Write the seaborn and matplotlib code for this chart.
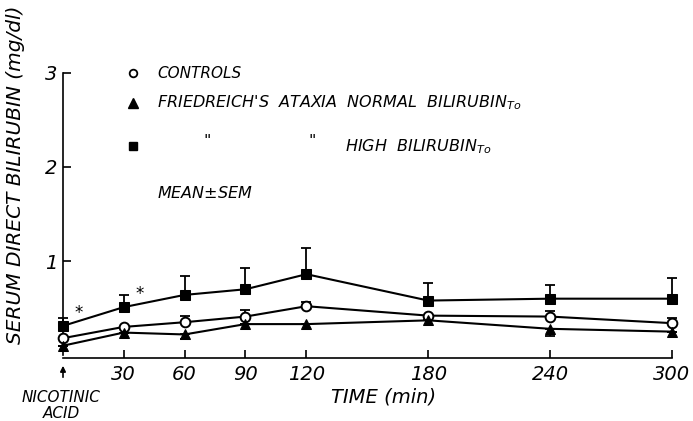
import matplotlib
matplotlib.use("Agg")
import matplotlib.pyplot as plt
import seaborn as sns
import pandas as pd
import numpy as np

times = [0, 30, 60, 90, 120, 180, 240, 300]
controls = [0.18, 0.30, 0.35, 0.41, 0.52, 0.42, 0.41, 0.34]
controls_err_up = [0.0, 0.0, 0.07, 0.07, 0.05, 0.0, 0.06, 0.05]
ataxia_normal = [0.10, 0.24, 0.22, 0.33, 0.33, 0.37, 0.28, 0.25]
ataxia_normal_err_dn = [0.0, 0.0, 0.05, 0.0, 0.0, 0.0, 0.08, 0.0]
ataxia_high = [0.31, 0.51, 0.64, 0.70, 0.86, 0.58, 0.60, 0.60]
ataxia_high_err_up = [0.09, 0.13, 0.20, 0.23, 0.28, 0.19, 0.14, 0.22]

groups = ["CONTROLS", "NORMAL", "HIGH"]
yticks = [1, 2, 3]
xticks = [30, 60, 90, 120, 180, 240, 300]

df = pd.DataFrame({
    "time": times * 3,
    "value": controls + ataxia_normal + ataxia_high,
    "group": [groups[0]] * 8 + [groups[1]] * 8 + [groups[2]] * 8,
})

sns.set_style("ticks")
plt.rcParams["font.family"] = ["DejaVu Sans"]
plt.rcParams["font.style"] = "italic"
plt.rcParams["mathtext.fontset"] = "dejavusans"
plt.rcParams["text.color"] = "black"
plt.rcParams["xtick.color"] = "black"
plt.rcParams["ytick.color"] = "black"
plt.rcParams["axes.edgecolor"] = "black"

W, H = 693, 421
fig = plt.figure(figsize=(W / 100, H / 100), dpi=100)
ax = fig.add_axes([62.7 / W, 1 - 358 / H, (672 - 62.7) / W, (358 - 72.7) / H])

ekw = dict(fmt="none", ecolor="black", elinewidth=1.3, capsize=3.5, capthick=1.3,
           clip_on=False, zorder=2)
ax.errorbar(times, ataxia_high, yerr=[np.zeros(8), ataxia_high_err_up], **ekw)
ax.errorbar(times, controls, yerr=[np.zeros(8), controls_err_up], **ekw)
ax.errorbar(times, ataxia_normal, yerr=[ataxia_normal_err_dn, np.zeros(8)], **ekw)

markers = {"CONTROLS": "o", "NORMAL": "^", "HIGH": "s"}
sns.lineplot(data=df, x="time", y="value", hue="group", style="group",
             markers=markers, dashes=False, palette=["black"] * 3,
             markersize=7, linewidth=1.5, legend=False, ax=ax, zorder=3)
for ln in ax.get_lines():
    ln.set_clip_on(False)
    ln.set_zorder(3)
    if ln.get_marker() == "o":
        ln.set_markerfacecolor("white")
        ln.set_markeredgecolor("black")
        ln.set_markeredgewidth(1.4)
    elif ln.get_marker() in ("^", "s"):
        ln.set_markeredgecolor("black")
        ln.set_markerfacecolor("black")

ax.set_xlim(0, 300)
ax.set_ylim(-0.03, 3.0)
ax.set_xticks(xticks)
ax.set_xticklabels([str(t) for t in xticks], fontsize=14, style="italic")
ax.set_yticks(yticks)
ax.set_yticklabels([str(t) for t in yticks], fontsize=14, style="italic")
ax.tick_params(axis="x", direction="in", length=6, width=1.2, pad=5)
ax.tick_params(axis="y", direction="in", length=6, width=1.2, pad=4)
sns.despine(ax=ax)
ax.spines["left"].set_linewidth(1.2)
ax.spines["bottom"].set_linewidth(1.2)
ax.spines["left"].set_bounds(0, 3)
ax.set_xlabel("")
ax.set_ylabel("")

fig.text(16 / W, 1 - 175 / H, "SERUM DIRECT BILIRUBIN (mg/dl)", rotation=90,
         ha="center", va="center", fontsize=14.5, style="italic")
fig.text(384 / W, 1 - 397 / H, "TIME (min)", ha="center", va="center", fontsize=14, style="italic")
fig.text(61 / W, 1 - 397 / H, "NICOTINIC", ha="center", va="center", fontsize=11, style="italic")
fig.text(61 / W, 1 - 413 / H, "ACID", ha="center", va="center", fontsize=11, style="italic")
ax.annotate("", xy=(63 / W, 1 - 363 / H), xytext=(63 / W, 1 - 380 / H),
            xycoords="figure fraction", textcoords="figure fraction",
            arrowprops=dict(arrowstyle="-|>", color="black", lw=1.2, mutation_scale=8))

# legend
leg_x_marker = 133 / W
leg_x_text = 157 / W
fig.lines.append(plt.Line2D([leg_x_marker], [1 - 73 / H], marker="o", markersize=5.5,
                            markerfacecolor="white", markeredgecolor="black",
                            markeredgewidth=1.3, transform=fig.transFigure))
fig.lines.append(plt.Line2D([leg_x_marker], [1 - 103 / H], marker="^", markersize=7,
                            color="black", transform=fig.transFigure))
fig.lines.append(plt.Line2D([leg_x_marker], [1 - 146 / H], marker="s", markersize=6,
                            color="black", transform=fig.transFigure))
fs = 11.5
fig.text(leg_x_text, 1 - 73 / H, "CONTROLS", va="center", fontsize=11, style="italic")
fig.text(leg_x_text, 1 - 103 / H, r"FRIEDREICH'S  ATAXIA  NORMAL  BILIRUBIN$_{\mathit{To}}$",
         va="center", fontsize=fs, style="italic")
# align "HIGH" with "NORMAL"
probe = fig.text(leg_x_text, 0.5, "FRIEDREICH'S  ATAXIA  ", fontsize=fs, style="italic")
fig.canvas.draw()
pw = probe.get_window_extent().width
probe.remove()
high_x = leg_x_text + pw / W
fig.text(207 / W, 1 - 142 / H, "\"", va="center", ha="center", fontsize=fs, style="italic")
fig.text(312 / W, 1 - 142 / H, "\"", va="center", ha="center", fontsize=fs, style="italic")
fig.text(high_x, 1 - 147 / H, r"HIGH  BILIRUBIN$_{\mathit{To}}$", va="center", fontsize=fs, style="italic")
fig.text(leg_x_text, 1 - 193 / H, r"MEAN$\pm$SEM", va="center", fontsize=fs, style="italic")

# significance asterisks
ax.text(6, 0.45, "*", fontsize=12, ha="left", va="center")
ax.text(36, 0.65, "*", fontsize=12, ha="left", va="center")

fig.savefig("out.png", dpi=100)
